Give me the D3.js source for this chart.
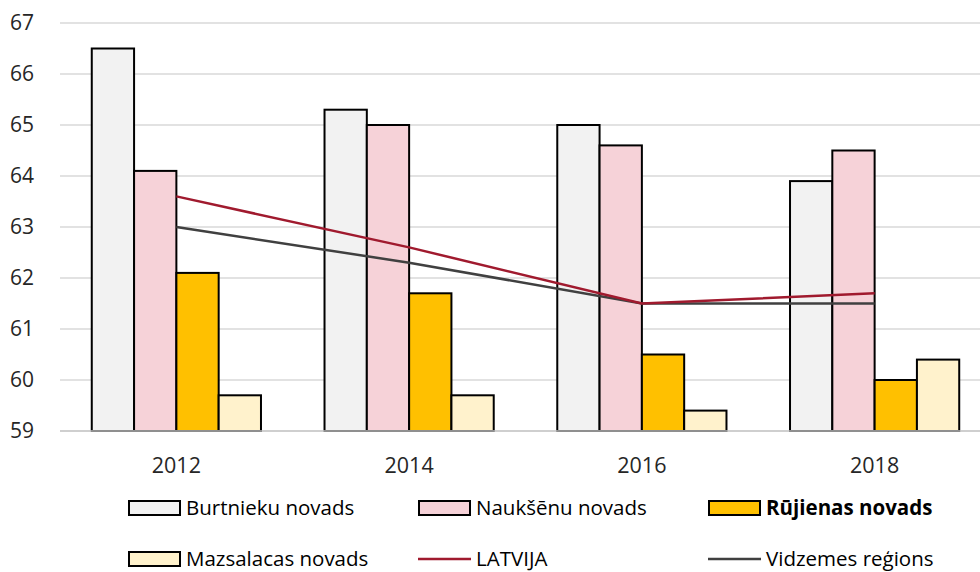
<!DOCTYPE html>
<html><head><meta charset="utf-8">
<script src="https://cdn.jsdelivr.net/npm/d3@7"></script>
<style>body{margin:0;background:#fff;} svg{display:block;font-family:"Open Sans","Noto Sans",sans-serif;}</style>
</head><body>
<svg id="c" width="980" height="572"></svg>
<script>
const years = ["2012","2014","2016","2018"];
const barSeries = ["Burtnieku novads","Naukšēnu novads","Rūjienas novads","Mazsalacas novads"];
const burtnieku = [66.5, 65.3, 65.0, 63.9];
const nauksenu = [64.1, 65.0, 64.6, 64.5];
const rujienas = [62.1, 61.7, 60.5, 60.0];
const mazsalacas = [59.7, 59.7, 59.4, 60.4];
const latvija = [63.6, 62.6, 61.5, 61.7];
const vidzeme = [63.0, 62.3, 61.5, 61.5];
const yTicks = [59,60,61,62,63,64,65,66,67];
const barColors = ["#f2f2f2","#f6d2d8","#ffc000","#fff2cc"];

const svg = d3.select("#c");
const x = d3.scaleBand().domain(years).range([60, 991]).padding(0);
const y = d3.scaleLinear().domain([59, 67]).range([431, 23]);
const groupW = x.bandwidth() * 0.727;
const xi = d3.scaleBand().domain(barSeries).range([0, groupW]).padding(0);

// gridlines
svg.append("g").selectAll("line").data(yTicks.slice(1)).join("line")
  .attr("x1", 60).attr("x2", 980).attr("y1", d => y(d)).attr("y2", d => y(d))
  .attr("stroke", "#d9d9d9").attr("stroke-width", 1.5);

// y labels
svg.append("g").selectAll("text").data(yTicks).join("text")
  .attr("x", 34).attr("y", d => y(d)).attr("dy", "0.35em")
  .attr("text-anchor", "end").attr("font-size", 21).attr("fill", "#262626").text(d => d);

const seriesVals = [burtnieku, nauksenu, rujienas, mazsalacas];
barSeries.forEach((s, si) => {
  svg.append("g").selectAll("rect").data(years).join("rect")
    .attr("x", (d) => x(d) + (x.bandwidth() - groupW) / 2 + xi(s))
    .attr("width", xi.bandwidth())
    .attr("y", (d, i) => y(seriesVals[si][i]))
    .attr("height", (d, i) => y(59) - y(seriesVals[si][i]))
    .attr("fill", barColors[si]).attr("stroke", "#000").attr("stroke-width", 2);
});

// baseline
svg.append("line").attr("x1", 60).attr("x2", 980).attr("y1", y(59)).attr("y2", y(59))
  .attr("stroke", "#bfbfbf").attr("stroke-width", 1.5);

// lines
const line = d3.line().x((d, i) => x(years[i]) + x.bandwidth() / 2).y(d => y(d));
svg.append("path").datum(vidzeme).attr("d", line).attr("fill", "none").attr("stroke", "#404040").attr("stroke-width", 2.5);
svg.append("path").datum(latvija).attr("d", line).attr("fill", "none").attr("stroke", "#a01a2e").attr("stroke-width", 2.5);

// x labels
svg.append("g").selectAll("text").data(years).join("text")
  .attr("x", d => x(d) + x.bandwidth() / 2).attr("y", 473)
  .attr("text-anchor", "middle").attr("font-size", 21.5).attr("fill", "#262626").text(d => d);

// legend
const legend = [
  {name: "Burtnieku novads", type: "box", color: barColors[0], x: 128, y: 508},
  {name: "Naukšēnu novads", type: "box", color: barColors[1], x: 418, y: 508},
  {name: "Rūjienas novads", type: "box", color: barColors[2], x: 708, y: 508, bold: true},
  {name: "Mazsalacas novads", type: "box", color: barColors[3], x: 128, y: 559},
  {name: "LATVIJA", type: "line", color: "#a01a2e", x: 418, y: 559},
  {name: "Vidzemes reģions", type: "line", color: "#404040", x: 708, y: 559}
];
const lg = svg.append("g").selectAll("g").data(legend).join("g");
lg.filter(d => d.type === "box").append("rect")
  .attr("x", d => d.x + 1).attr("y", d => d.y - 7).attr("width", 51).attr("height", 14)
  .attr("fill", d => d.color).attr("stroke", "#000").attr("stroke-width", 2);
lg.filter(d => d.type === "line").append("line")
  .attr("x1", d => d.x).attr("x2", d => d.x + 53).attr("y1", d => d.y).attr("y2", d => d.y)
  .attr("stroke", d => d.color).attr("stroke-width", 2.5);
lg.append("text").attr("x", d => d.x + 58).attr("y", d => d.y).attr("dy", "0.35em")
  .attr("font-size", 20.5).attr("fill", "#000").attr("font-weight", d => d.bold ? "bold" : "normal")
  .text(d => d.name);
</script>
</body></html>
